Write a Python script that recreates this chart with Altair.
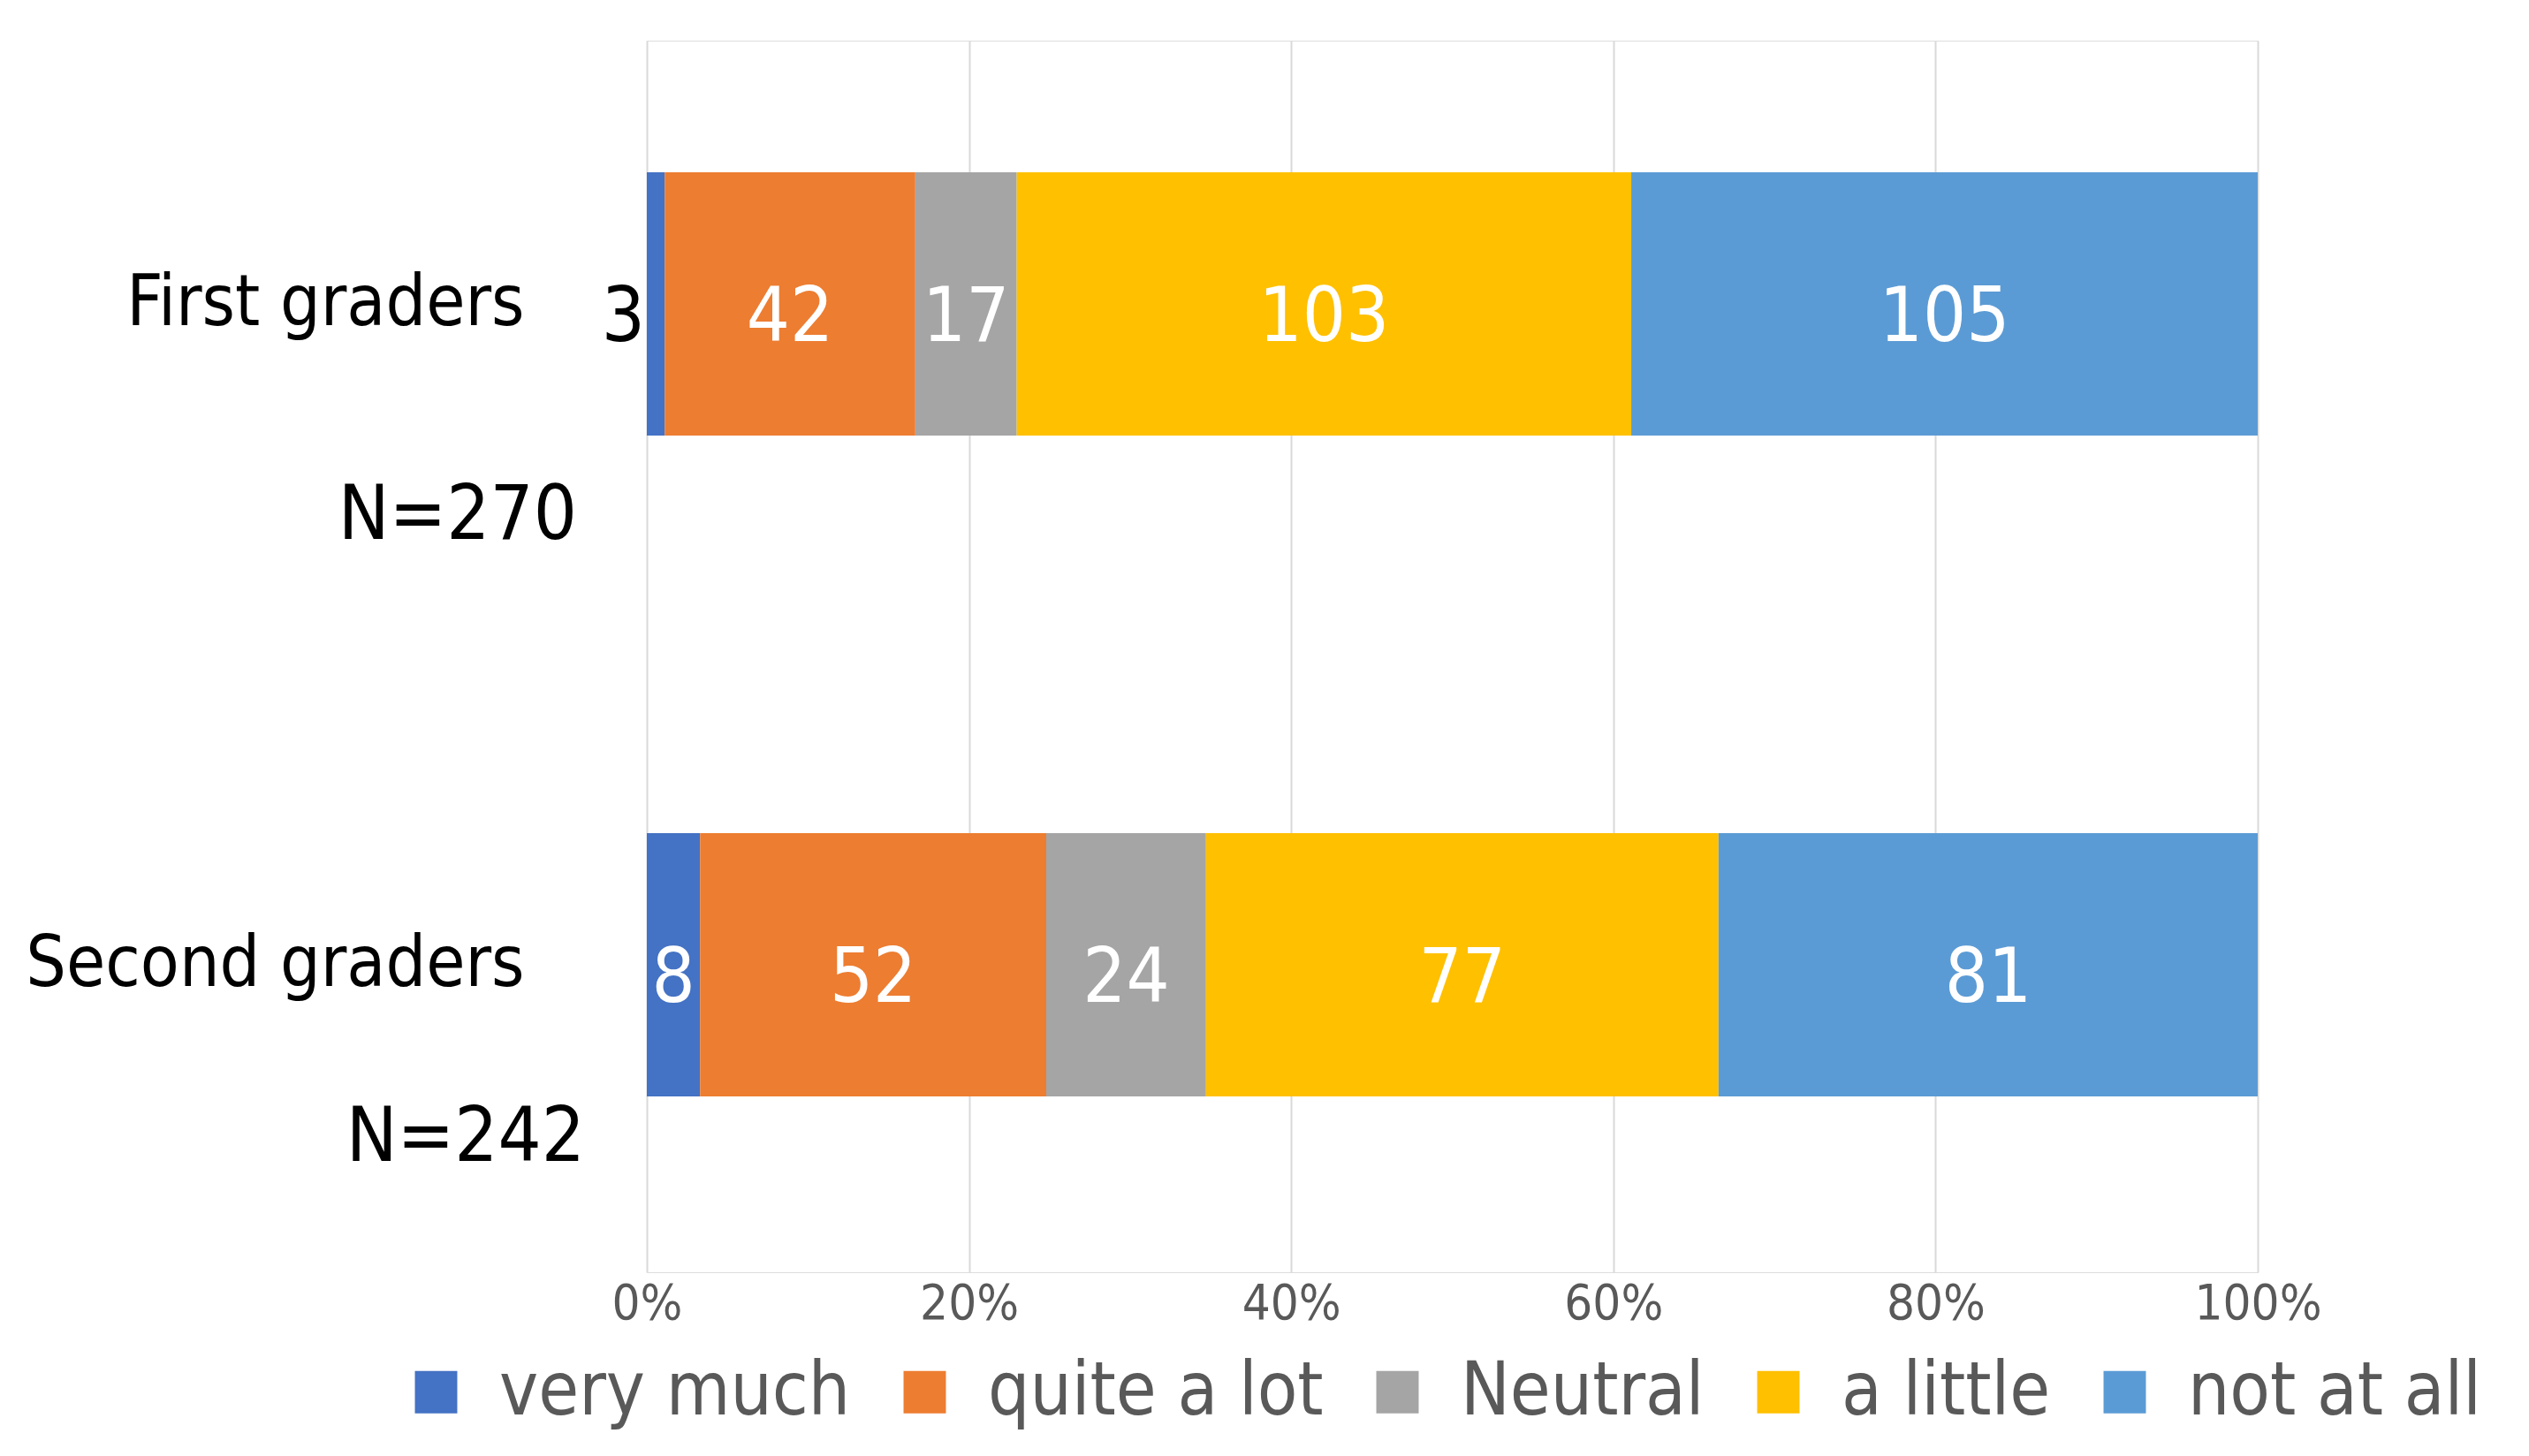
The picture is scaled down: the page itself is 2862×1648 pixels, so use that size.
import altair as alt
import pandas as pd

groups = ["First graders", "Second graders"]
group_n = ["N=270", "N=242"]
responses = ["very much", "quite a lot", "Neutral", "a little", "not at all"]
first_counts = [3, 42, 17, 103, 105]
second_counts = [8, 52, 24, 77, 81]
colors = ["#4472C4", "#ED7D31", "#A5A5A5", "#FFC000", "#5B9BD5"]
tick_values = [0, 0.2, 0.4, 0.6, 0.8, 1.0]

rows = []
for g, counts in zip(groups, [first_counts, second_counts]):
    total = sum(counts)
    cum = 0
    for i, (r, c) in enumerate(zip(responses, counts)):
        s = cum / total
        cum += c
        e = cum / total
        rows.append(dict(group=g, response=r, order=i, count=c, start=s, end=e,
                         mid=(s + e) / 2, inside=(e - s) > 0.02))
df = pd.DataFrame(rows)
ndf = pd.DataFrame({"group": groups, "n": group_n})

FONT = "Liberation Sans Narrow, DejaVu Sans Condensed, Arial Narrow, sans-serif"

yscale = alt.Scale(domain=groups, paddingInner=0.6016, paddingOuter=0.2326, align=0.428)
ybase = alt.Y("group:N", scale=yscale, sort=groups,
              axis=alt.Axis(title=None, domain=False, ticks=False, labelFontSize=80,
                            labelColor="#000000", labelFont=FONT, labelPadding=139,
                            labelBaseline="middle", labelLimit=900))

bars = alt.Chart(df).mark_bar().encode(
    y=ybase,
    x=alt.X("start:Q", scale=alt.Scale(domain=[0, 1], nice=False),
            axis=alt.Axis(values=tick_values, format="%", title=None, domain=False, ticks=False,
                          grid=True, gridColor="#D9D9D9", gridWidth=2, labelFontSize=56,
                          labelColor="#595959", labelFont=FONT, labelPadding=8,
                          labelFlush=False)),
    x2="end:Q",
    color=alt.Color("response:N", sort=responses,
                    scale=alt.Scale(domain=responses, range=colors),
                    legend=alt.Legend(title=None, orient="none", direction="horizontal",
                                      legendX=-280, legendY=1488, columns=5,
                                      symbolType="square", symbolSize=2300,
                                      symbolStrokeWidth=0, labelFontSize=83,
                                      labelColor="#595959", labelFont=FONT,
                                      labelOffset=30, columnPadding=42, labelLimit=600)),
    order=alt.Order("order:Q"),
)

inside_labels = alt.Chart(df).transform_filter("datum.inside").mark_text(
    color="white", fontSize=86, font=FONT, baseline="middle", align="center", dy=16
).encode(y=alt.Y("group:N", scale=yscale, sort=groups), x="mid:Q", text="count:Q")

outside_labels = alt.Chart(df).transform_filter("!datum.inside").mark_text(
    color="black", fontSize=86, font=FONT, baseline="middle", align="right", dy=16, dx=-2
).encode(y=alt.Y("group:N", scale=yscale, sort=groups), x="start:Q", text="count:Q")

n1 = alt.Chart(ndf).transform_filter(alt.datum.group == groups[0]).mark_text(
    color="black", fontSize=86, font=FONT, baseline="middle", align="right", dy=240
).encode(y=alt.Y("group:N", scale=yscale, sort=groups), x=alt.value(-79), text="n:N")

n2 = alt.Chart(ndf).transform_filter(alt.datum.group == groups[1]).mark_text(
    color="black", fontSize=86, font=FONT, baseline="middle", align="right", dy=196
).encode(y=alt.Y("group:N", scale=yscale, sort=groups), x=alt.value(-70), text="n:N")

chart = alt.layer(bars, inside_labels, outside_labels, n1, n2).properties(
    width=1823, height=1394,
    autosize=alt.AutoSizeParams(type="none"),
    padding={"left": 724, "top": 38, "right": 290, "bottom": 180},
).configure_view(stroke=None).configure(background="white")

chart.save("out.html", embed_options={"renderer": "svg", "actions": False})
